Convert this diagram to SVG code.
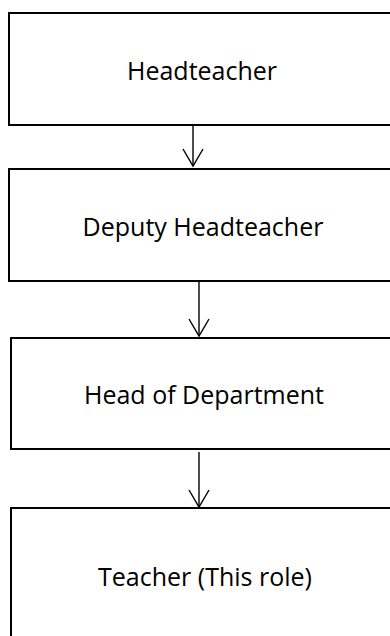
<svg xmlns="http://www.w3.org/2000/svg" width="390" height="636" viewBox="0 0 390 636">
<style>
.box{fill:#fff;stroke:#000;stroke-width:2}
.lbl{font-family:"Open Sans","Noto Sans",sans-serif;font-size:25px;fill:#000;text-anchor:middle}
.conn{stroke:#000;stroke-width:1.4;fill:none}
</style>
<defs>
<marker id="arr" markerWidth="20" markerHeight="24" refX="18" refY="11" orient="auto" markerUnits="userSpaceOnUse" viewBox="0 0 20 22">
<path d="M1,1 L18,11 L1,21" fill="none" stroke="#000" stroke-width="1.4"/>
</marker>
</defs>
<rect width="390" height="636" fill="#fff"/>
<g id="node-headteacher">
<rect class="box" x="9" y="13" width="400" height="112"/>
<text class="lbl" x="202" y="80">Headteacher</text>
</g>
<g id="node-deputy">
<rect class="box" x="9" y="169" width="400" height="112"/>
<text class="lbl" x="203" y="236">Deputy Headteacher</text>
</g>
<g id="node-hod">
<rect class="box" x="11" y="338" width="400" height="111"/>
<text class="lbl" x="204" y="404">Head of Department</text>
</g>
<g id="node-teacher">
<rect class="box" x="11" y="508" width="400" height="150"/>
<text class="lbl" x="205" y="586">Teacher (This role)</text>
</g>
<g id="connectors">
<line class="conn" x1="193" y1="126" x2="193" y2="166" marker-end="url(#arr)"/>
<line class="conn" x1="199" y1="282" x2="199" y2="336" marker-end="url(#arr)"/>
<line class="conn" x1="199" y1="452" x2="199" y2="507" marker-end="url(#arr)"/>
</g>
</svg>
